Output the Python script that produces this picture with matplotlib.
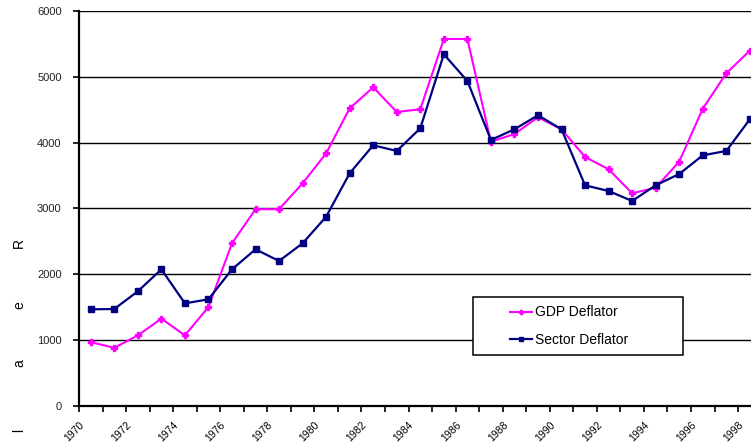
import matplotlib
matplotlib.use("Agg")
import matplotlib.pyplot as plt
from matplotlib.patches import Rectangle
from matplotlib.transforms import ScaledTranslation

plt.rcParams["font.family"] = ["Liberation Sans", "DejaVu Sans"]

years = list(range(1970, 1999))
gdp_deflator = [966, 880, 1069, 1323, 1069, 1501, 2468, 2987, 2987, 3381,
                3837, 4521, 4840, 4465, 4506, 5575, 5575, 4013, 4130, 4384,
                4202, 3781, 3594, 3229, 3314, 3710, 4515, 5053, 5397]
sector_deflator = [1465, 1470, 1739, 2073, 1556, 1617, 2073, 2377, 2200, 2469,
                   2873, 3533, 3959, 3872, 4217, 5342, 4936, 4039, 4202, 4415,
                   4202, 3350, 3264, 3112, 3350, 3522, 3806, 3872, 4354]
ylabel_letters = ["R", "e", "a", "l"]

fig = plt.figure(figsize=(7.51, 4.48), dpi=100)
ax = fig.add_axes([79 / 751, 1 - 405.7 / 448, 672 / 751, 394.7 / 448])

xs = [i + 0.5 for i in range(len(years))]
ax.plot(xs, gdp_deflator, color="#FF00FF", lw=1.5, marker="P", ms=4.5,
        mec="#FF00FF", label="GDP Deflator", zorder=4)
ax.plot(xs, sector_deflator, color="#000080", lw=1.6, marker="s", ms=5,
        label="Sector Deflator", zorder=5)

ax.set_xlim(0, 28.55)
ax.set_ylim(0, 6000)
ax.set_yticks(range(0, 6001, 1000))
ax.set_xticks(range(0, len(years)))
ax.set_xticklabels([str(y) if (y - 1970) % 2 == 0 else "" for y in years],
                   rotation=45, ha="right", va="top", rotation_mode="anchor",
                   fontsize=7.5)
offset = ScaledTranslation(-6 / 100, -2 / 100, fig.dpi_scale_trans)
for lbl in ax.get_xticklabels():
    lbl.set_transform(lbl.get_transform() + offset)
ax.tick_params(axis="x", length=4, width=1.2, pad=6)
ax.tick_params(axis="y", length=4.5, width=1.2, pad=8, labelsize=8,
               labelcolor="#222222")

ax.yaxis.grid(True, color="black", lw=1.0)
ax.set_axisbelow(True)
for side in ["top", "right"]:
    ax.spines[side].set_visible(False)
for side in ["left", "bottom"]:
    ax.spines[side].set_linewidth(1.6)
    ax.spines[side].set_zorder(6)

# legend box
ax.add_patch(Rectangle((0.586, 0.1285), 0.3125, 0.147, transform=ax.transAxes,
                       facecolor="white", edgecolor="black", lw=1.1, zorder=7))
ax.legend(loc="upper left", bbox_to_anchor=(0.641, 0.254), frameon=False,
          fontsize=10, handlelength=1.6, handletextpad=0.25, labelspacing=0.95,
          borderpad=0, borderaxespad=0, markerscale=0.7).set_zorder(8)

# y label letters stacked
for letter, ypix in zip(ylabel_letters, [243, 305, 363, 430]):
    fig.text(19 / 751, 1 - ypix / 448, letter, rotation=90, fontsize=10,
             ha="center", va="center")

fig.savefig("out.png", dpi=100)
